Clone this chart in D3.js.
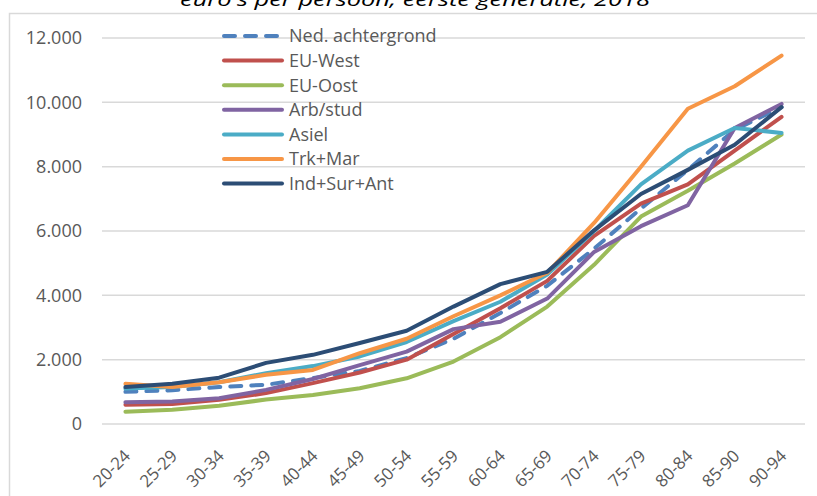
<!DOCTYPE html>
<html><head><meta charset="utf-8">
<script src="https://cdn.jsdelivr.net/npm/d3@7"></script>
<style>
html,body{margin:0;padding:0;background:#fff;}
svg{display:block;font-family:"Open Sans",sans-serif;}
</style></head>
<body><svg id="c" width="817" height="496"></svg>
<script>
const title = "euro's per persoon, eerste generatie, 2018";
const categories = ["20-24","25-29","30-34","35-39","40-44","45-49","50-54","55-59","60-64","65-69","70-74","75-79","80-84","85-90","90-94"];
const yTicks = [0,2000,4000,6000,8000,10000,12000];
const seriesNames = ["Ned. achtergrond","EU-West","EU-Oost","Arb/stud","Asiel","Trk+Mar","Ind+Sur+Ant"];
const nedAchtergrond = [1000,1050,1150,1220,1430,1650,2050,2650,3450,4300,5450,6700,7900,9150,9850];
const euWest       = [600,620,750,960,1270,1600,2000,2800,3600,4450,5850,6850,7450,8500,9550];
const euOost       = [380,440,570,760,900,1110,1420,1940,2700,3650,4950,6450,7250,8100,9000];
const arbStud      = [680,700,800,1060,1400,1830,2250,2950,3180,3900,5350,6150,6800,9200,9950];
const asiel        = [1100,1150,1300,1580,1800,2100,2550,3200,3800,4650,6000,7450,8500,9200,9050];
const trkMar       = [1250,1150,1300,1530,1680,2200,2650,3350,4000,4700,6250,8000,9800,10500,11450];
const indSurAnt    = [1150,1250,1440,1900,2150,2520,2900,3650,4350,4730,6020,7150,7900,8680,9850];
const seriesValues = [nedAchtergrond,euWest,euOost,arbStud,asiel,trkMar,indSurAnt];
const colors = ["#4F81BD","#C0504D","#9BBB59","#8064A2","#4BACC6","#F79646","#2C4D75"];

const svg = d3.select("#c");
svg.append("rect").attr("x",9.5).attr("y",13.5).attr("width",840).attr("height",520)
  .attr("fill","none").attr("stroke","#d9d9d9").attr("stroke-width",1.5);
svg.append("text").attr("x",415).attr("y",5.5).attr("text-anchor","middle")
  .attr("font-style","italic").attr("font-size",19).attr("fill","#000")
  .attr("textLength",470).attr("lengthAdjust","spacingAndGlyphs").text(title);

const x = d3.scaleBand().domain(categories).range([102,805]);
const y = d3.scaleLinear().domain([0,12000]).range([424,38]);
const fmt = v => d3.format(",")(v).replace(/,/g,".");

svg.append("g").selectAll("line").data(yTicks).join("line")
  .attr("x1",102).attr("x2",805).attr("y1",d=>y(d)).attr("y2",d=>y(d))
  .attr("stroke","#d9d9d9").attr("stroke-width",1.5);

const yAxis = svg.append("g").attr("transform","translate(102,0)")
  .call(d3.axisLeft(y).tickValues(yTicks).tickFormat(fmt).tickSize(0).tickPadding(20));
yAxis.select(".domain").remove();
yAxis.selectAll("text").attr("font-family","Open Sans").attr("font-size",18).attr("fill","#595959");

const xAxis = svg.append("g").attr("transform","translate(0,424)")
  .call(d3.axisBottom(x).tickSize(0));
xAxis.select(".domain").remove();
xAxis.selectAll("text").attr("font-family","Open Sans").attr("font-size",17).attr("fill","#595959")
  .attr("text-anchor","end").attr("dy",0).attr("y",0)
  .attr("transform","translate(6,33) rotate(-45)");

const line = d3.line().x((d,i)=>x(categories[i])+x.bandwidth()/2).y(d=>y(d));
seriesValues.forEach((vals,k)=>{
  svg.append("path").datum(vals).attr("d",line).attr("fill","none")
    .attr("stroke",colors[k]).attr("stroke-width",4)
    .attr("stroke-linejoin","round").attr("stroke-linecap","round")
    .attr("stroke-dasharray",k===0?"11,10":null);
});

const lg = svg.append("g");
seriesNames.forEach((n,k)=>{
  const yy = 36 + k*24.6;
  lg.append("line").attr("x1",224).attr("x2",282).attr("y1",yy).attr("y2",yy)
    .attr("stroke",colors[k]).attr("stroke-width",4).attr("stroke-linecap","round")
    .attr("stroke-dasharray",k===0?"11,10":null);
  lg.append("text").attr("x",289).attr("y",yy).attr("dy","0.35em")
    .attr("font-size",18).attr("fill","#595959").text(n);
});
</script></body></html>
